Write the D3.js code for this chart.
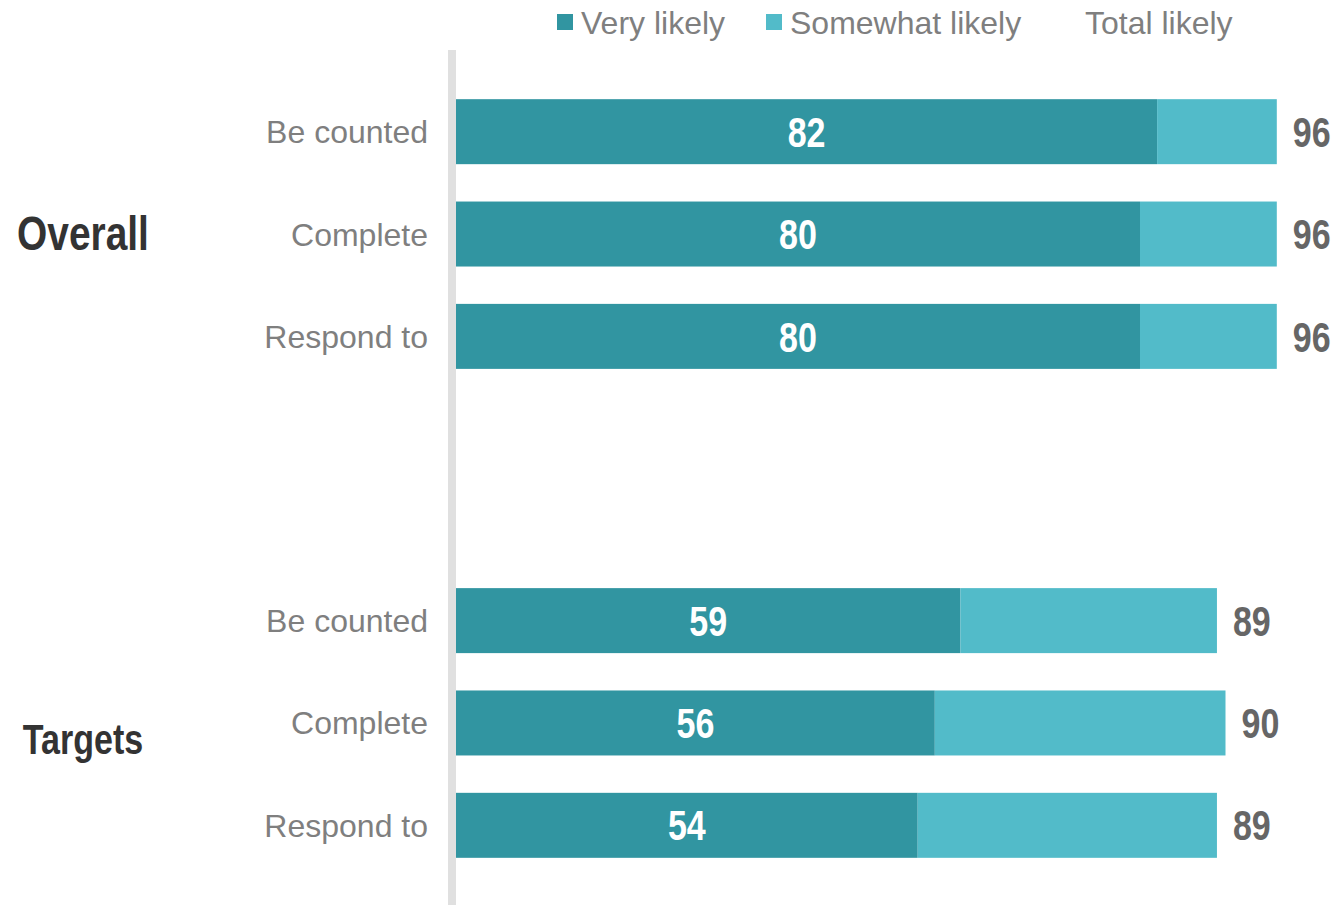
<!DOCTYPE html>
<html>
<head>
<meta charset="utf-8">
<script src="https://cdn.jsdelivr.net/npm/d3@7"></script>
<style>
  html, body { margin: 0; padding: 0; background: #fff; }
  svg { display: block; }
</style>
</head>
<body>
<svg id="chart" width="1342" height="905"></svg>
<script>
// Survey results: likelihood to be counted / complete / respond
const groups = ["Overall", "Targets"];
const categories = ["Be counted", "Complete", "Respond to"];
const veryLikely = [82, 80, 80, 59, 56, 54];
const somewhatLikely = [14, 16, 16, 30, 34, 35];
const totalLikely = [96, 96, 96, 89, 90, 89];
const legendLabels = ["Very likely", "Somewhat likely", "Total likely"];

const colors = { very: "#3195a1", somewhat: "#52bbc9", total: "#ffffff" };
const boldFont = "'Liberation Sans', Arial, sans-serif";
const regular = "'Liberation Sans', Arial, sans-serif";
const condense = 0.81; // horizontal squeeze for the condensed bold labels

const svg = d3.select("#chart");

const rows = [];
groups.forEach((g, gi) => {
  categories.forEach((c, ci) => {
    const i = gi * categories.length + ci;
    rows.push({ group: g, cat: c, very: veryLikely[i], somewhat: somewhatLikely[i], total: totalLikely[i] });
  });
});

const x = d3.scaleLinear().domain([0, 100]).range([456, 1311]);

const yGroup = d3.scaleBand().domain(groups).range([80.5, 876.5]).paddingInner(0.372);
const yCat = d3.scaleBand().domain(categories).range([0, yGroup.bandwidth()])
  .paddingInner(0.365).paddingOuter(0.1825);

// condensed bold text placed at (px, py)
function condensedText(sel, px, py, anchor, size, fill, txt) {
  const g = sel.append("g").attr("transform", d => `translate(${px(d)},${py(d)})`);
  g.append("text")
    .attr("transform", `scale(${condense},1)`)
    .attr("dy", "0.36em")
    .attr("text-anchor", anchor)
    .attr("fill", fill)
    .style("font-family", boldFont)
    .style("font-weight", "bold")
    .each(function (d) {
      const s = typeof size === "function" ? size(d) : size;
      d3.select(this).style("font-size", s + "px");
    })
    .text(txt);
  return g;
}

// vertical divider
svg.append("rect")
  .attr("x", 448).attr("y", 50).attr("width", 8).attr("height", 855)
  .attr("fill", "#e0e0e0");

const row = svg.selectAll("g.row").data(rows).join("g")
  .attr("class", "row")
  .attr("transform", d => `translate(0,${yGroup(d.group) + yCat(d.cat)})`);

const bh = yCat.bandwidth();

row.append("rect")
  .attr("x", x(0))
  .attr("width", d => x(d.very) - x(0))
  .attr("height", bh)
  .attr("fill", colors.very);

row.append("rect")
  .attr("x", d => x(d.very))
  .attr("width", d => x(d.very + d.somewhat) - x(d.very))
  .attr("height", bh)
  .attr("fill", colors.somewhat);

condensedText(row, d => (x(0) + x(d.very)) / 2, () => bh / 2, "middle", 42, "#ffffff", d => d.very);
condensedText(row, d => x(d.very + d.somewhat) + 16, () => bh / 2, "start", 42, "#666666", d => d.total);

row.append("text")
  .attr("x", 428)
  .attr("y", bh / 2)
  .attr("dy", "0.36em")
  .attr("text-anchor", "end")
  .attr("fill", "#7f7f7f")
  .style("font-family", regular)
  .style("font-size", "32px")
  .text(d => d.cat);

// group titles
const titleSize = { Overall: 48, Targets: 42 };
const titleShift = { Overall: -1, Targets: 16 };
const titles = svg.selectAll("g.group").data(groups).join("g").attr("class", "group");
condensedText(titles, () => 83, d => yGroup(d) + yGroup.bandwidth() / 2 + titleShift[d], "middle",
  d => titleSize[d], "#333333", d => d);

// legend
const legendX = [557, 766, 1061];
const legendColors = [colors.very, colors.somewhat, colors.total];
const lg = svg.selectAll("g.legend").data(legendLabels).join("g")
  .attr("class", "legend")
  .attr("transform", (d, i) => `translate(${legendX[i]},14)`);
lg.append("rect")
  .attr("width", 16).attr("height", 16)
  .attr("fill", (d, i) => legendColors[i]);
lg.append("text")
  .attr("x", 24).attr("y", 8).attr("dy", "0.36em")
  .attr("fill", "#7f7f7f")
  .style("font-family", regular)
  .style("font-size", "32px")
  .text(d => d);
</script>
</body>
</html>
